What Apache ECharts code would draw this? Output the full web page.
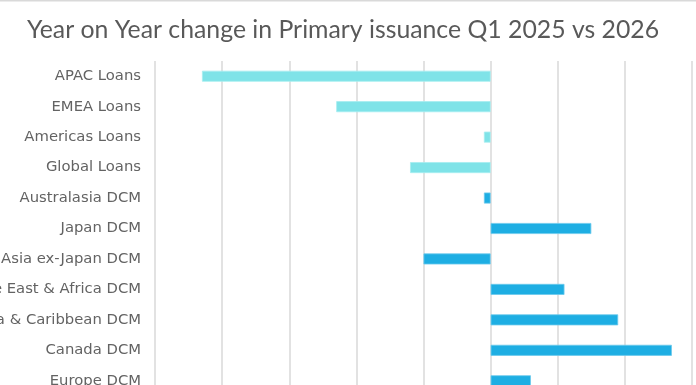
<!DOCTYPE html>
<html>
<head>
<meta charset="utf-8">
<script src="https://cdn.jsdelivr.net/npm/echarts@6/dist/echarts.min.js"></script>
<style>
html,body{margin:0;padding:0;background:#fff;}
#chart{width:696px;height:385px;}
</style>
</head>
<body>
<div id="chart"></div>
<script>
const categories = ["APAC Loans","EMEA Loans","Americas Loans","Global Loans","Australasia DCM","Japan DCM","Asia ex-Japan DCM","Middle East & Africa DCM","Latin America & Caribbean DCM","Canada DCM","Europe DCM"];
const loansValues = [-43, -23, -1, -12, null, null, null, null, null, null, null];
const dcmValues = [null, null, null, null, -1, 15, -10, 11, 19, 27, 6];
const xMin = -50, xMax = 30, xInterval = 10;

const chart = echarts.init(document.getElementById('chart'));
chart.setOption({
  animation: false,
  backgroundColor: '#ffffff',
  title: {
    text: 'Year on Year change in Primary issuance Q1 2025 vs 2026',
    left: 22, top: 13,
    textStyle: { fontFamily: 'Lato', fontWeight: 'normal', fontSize: 24.8, color: '#595959' }
  },
  graphic: [{ type: 'rect', shape: { x: 0, y: 0, width: 696, height: 1.5 }, style: { fill: '#d9d9d9' } }],
  grid: { left: 155, right: 4, top: 61, height: 335, containLabel: false, outerBoundsMode: 'none' },
  xAxis: {
    type: 'value', min: xMin, max: xMax, interval: xInterval,
    axisLabel: { show: false }, axisLine: { show: false }, axisTick: { show: false },
    splitLine: { show: true, lineStyle: { color: '#d9d9d9', width: 1.5 } }
  },
  yAxis: {
    type: 'category', data: categories, inverse: true,
    axisLine: { show: false }, axisTick: { show: false },
    axisLabel: { margin: 14, fontFamily: 'DejaVu Sans', fontSize: 14.8, color: '#636363' }
  },
  series: [
    { type: 'bar', name: 'Loans', stack: 's', data: loansValues, barWidth: 11,
      itemStyle: { color: '#7fe3e8', borderColor: '#a6edf0', borderWidth: 0.8 } },
    { type: 'bar', name: 'DCM', stack: 's', data: dcmValues, barWidth: 11,
      itemStyle: { color: '#1eaee3', borderColor: '#6cc9ec', borderWidth: 0.8 } }
  ]
});
</script>
</body>
</html>
